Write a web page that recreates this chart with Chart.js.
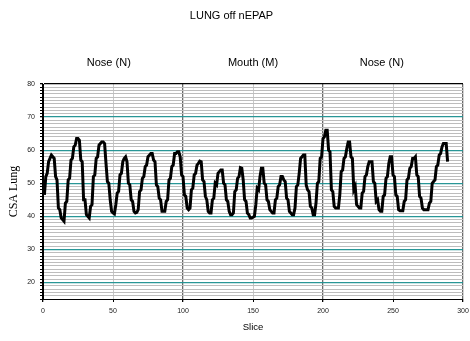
<!DOCTYPE html>
<html lang="en">
<head>
  <meta charset="UTF-8">
  <title>LUNG off nEPAP</title>
  <script src="https://cdn.jsdelivr.net/npm/chart.js"></script>
  <style>
    body { margin: 0; background: #fff; }
    #lungChart { display: block; }
  </style>
</head>
<body>
  <canvas id="lungChart" width="470" height="341"></canvas>

  <script>
    // CSA per slice (slice 1..289)
    const lungCSA = [
      46.5, 52, 53, 56.5, 57.5, 58.5, 58, 57.5, 52, 51,
      42.5, 42, 39.5, 39, 38.5, 44, 44.5, 51, 51.5, 57,
      57.5, 61, 61.5, 63.5, 63.5, 63, 57, 56.5, 45, 45,
      40.5, 40, 39.5, 43, 43.5, 52, 52.5, 57.5, 58, 61.5,
      62, 62.5, 62.5, 62, 56, 50.5, 50, 45, 41.5, 41,
      40.7, 43.5, 47, 47.5, 52.5, 53, 56.5, 57.5, 58, 56.5,
      50, 49.5, 45, 44.5, 41.5, 41, 41.2, 42, 47.5, 48,
      51.5, 52, 55, 55.5, 58, 58.5, 59, 59, 57, 56.5,
      49.5, 49, 45.5, 45, 41.5, 41.5, 41.5, 44.5, 45, 51,
      51.5, 55, 55.5, 59, 59, 59.5, 59.5, 58, 52.5, 52,
      46.5, 46, 42.5, 42, 42.5, 48, 48.5, 52.5, 53, 55.5,
      56, 56.7, 56.5, 51, 50.5, 46, 45, 41.5, 41, 41,
      45, 45.5, 50, 49.5, 53, 53.5, 54, 54, 50, 49.5,
      45, 44.5, 41.5, 40.5, 40.5, 41, 47.5, 48, 51.5, 52,
      54.7, 54.5, 51, 45, 44.5, 41, 40.5, 39.5, 39.5, 39.7,
      40, 43.5, 48.5, 48, 52, 54.5, 54.5, 50, 49.5, 45,
      44.5, 42, 41.5, 41, 41, 45, 45.5, 49, 49.5, 52,
      52, 51, 50.5, 45.5, 45, 41.5, 41, 40.5, 40.5, 42.5,
      49, 49.5, 53, 57.5, 58, 58.5, 58.5, 49.5, 48, 47.5,
      43, 42.5, 40.5, 40.5, 44, 50, 50.5, 57.5, 58, 63.5,
      64, 66, 66, 60, 59.5, 48, 47.5, 43, 42.5, 42.5,
      42.5, 46.5, 53.5, 54, 57.5, 58, 60.5, 62.5, 62.5, 58,
      57.5, 48, 49, 43.5, 43, 42.5, 42.5, 47, 47.5, 52,
      52.5, 55, 56.5, 56.5, 56.5, 50.5, 50, 44.5, 45, 42,
      41.5, 41.5, 46, 46.5, 51.5, 52, 56, 58, 58, 52.5,
      52, 46.5, 46, 42, 41.7, 41.7, 41.7, 44.5, 45, 51,
      51.5, 54.5, 55, 57.5, 57.5, 58, 52.5, 52, 46, 45.5,
      42.5, 42, 42, 42, 42, 44, 44.5, 50, 50.5, 51,
      55, 55.5, 58.5, 59, 61, 62, 62, 62, 56.5
    ];
    const slices = lungCSA.map((v, i) => i + 1);

    // section labels above the plot and where they sit on the slice axis
    const sectionLabels = ['Nose (N)', 'Mouth (M)', 'Nose (N)'];
    const sectionCenters = [47, 150, 242];

    const xTicks = [0, 50, 100, 150, 200, 250, 300];
    const yLabelled = [20, 30, 40, 50, 60, 70, 80];

    const sans = 'Arial, "Liberation Sans", sans-serif';
    const teal = 'rgb(40,150,150)';

    const sectionPlugin = {
      id: 'sections',
      afterDraw(chart) {
        const ctx = chart.ctx;
        const xs = chart.scales.x;
        ctx.save();
        ctx.font = '11px ' + sans;
        ctx.fillStyle = '#000';
        ctx.textAlign = 'center';
        ctx.textBaseline = 'middle';
        sectionLabels.forEach((lab, i) => {
          ctx.fillText(lab, xs.getPixelForValue(sectionCenters[i]), chart.chartArea.top - 21);
        });
        ctx.restore();
      }
    };

    const ctx = document.getElementById('lungChart').getContext('2d');
    new Chart(ctx, {
      type: 'line',
      data: {
        datasets: [{
          data: slices.map((s, i) => ({ x: s, y: lungCSA[i] })),
          borderColor: '#000',
          borderWidth: 3,
          pointRadius: 0,
          tension: 0,
          fill: false
        }]
      },
      options: {
        responsive: false,
        animation: false,
        layout: { padding: { left: 0, right: 7, top: 0, bottom: 0 } },
        plugins: {
          legend: { display: false },
          tooltip: { enabled: false },
          title: {
            display: true,
            text: 'LUNG off nEPAP',
            color: '#000',
            font: { family: sans, size: 11, weight: 'normal' },
            padding: { top: 9.4, bottom: 61.4 }
          }
        },
        scales: {
          x: {
            type: 'linear',
            min: 0,
            max: 300,
            afterBuildTicks(scale) {
              scale.ticks = xTicks.map(v => ({ value: v }));
            },
            afterFit(scale) {
              scale.height = 42;
              scale.paddingLeft = 0;
              scale.paddingRight = 0;
            },
            ticks: {
              color: '#222',
              font: { family: sans, size: 7 },
              padding: 5,
              maxRotation: 0
            },
            grid: {
              color: c => {
                const v = c.tick.value;
                if (v === 0) return '#000';
                if (v % 100 === 0) return '#6a6a6a';
                return '#c8c8c8';
              },
              lineWidth: c => (c.tick.value % 100 === 0 ? 1.3 : 1),
              tickColor: '#000',
              tickLength: 3
            },
            border: { color: '#000', width: 1 },
            title: {
              display: true,
              text: 'Slice',
              color: '#000',
              font: { family: sans, size: 9.5 },
              padding: { top: 7.6, bottom: 7.6 }
            }
          },
          y: {
            type: 'linear',
            min: 15,
            max: 80,
            afterBuildTicks(scale) {
              const t = [];
              for (let v = 15; v <= 80; v++) t.push({ value: v });
              scale.ticks = t;
            },
            afterFit(scale) {
              scale.width = 43;
              scale.paddingTop = 0;
              scale.paddingBottom = 0;
            },
            ticks: {
              autoSkip: false,
              color: '#222',
              font: { family: sans, size: 7 },
              padding: 5,
              callback: v => (yLabelled.includes(v) ? String(v) : '')
            },
            grid: {
              color: c => {
                const v = c.tick.value;
                if (v === 80) return '#000';
                if (v % 10 === 0) return teal;
                return '#bdbdbd';
              },
              lineWidth: c => (c.tick.value % 10 === 0 ? 1.3 : 1),
              tickColor: '#000',
              tickLength: 3
            },
            border: { color: '#000', width: 1 },
            title: {
              display: true,
              text: 'CSA Lung',
              color: '#000',
              font: { family: '"Times New Roman", "Liberation Serif", serif', size: 12 },
              padding: { top: 7, bottom: 0 }
            }
          }
        }
      },
      plugins: [sectionPlugin]
    });
  </script>
</body>
</html>
